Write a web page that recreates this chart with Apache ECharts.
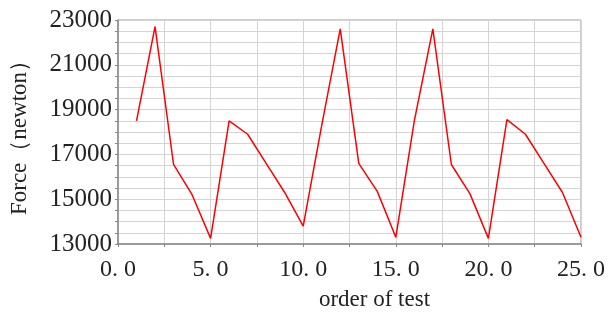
<!DOCTYPE html>
<html>
<head>
<meta charset="utf-8">
<script src="https://cdn.jsdelivr.net/npm/echarts@6/dist/echarts.min.js"></script>
<style>
  html, body { margin: 0; padding: 0; background: #fff; }
  #chart { width: 611px; height: 316px; }
</style>
</head>
<body>
<div id="chart"></div>
<script>
// order of test (x) and measured force (y)
const testOrder = [1, 2, 3, 4, 5, 6, 7, 8, 9, 10, 11, 12, 13, 14, 15, 16, 17, 18, 19, 20, 21, 22, 23, 24, 25]
const forceValues = [18500, 22700, 16550, 15200, 13250, 18500, 17900, 16600, 15300, 13800,
  18300, 22600, 16600, 15350, 13300, 18500, 22600, 16550, 15250, 13250,
  18550, 17900, 16600, 15300, 13300]
const yLabelValues = [13000, 15000, 17000, 19000, 21000, 23000]
const xLabelValues = [0, 5, 10, 15, 20, 25]

const chart = echarts.init(document.getElementById('chart'), null, { renderer: 'canvas' })

const serif = '"Liberation Serif", "DejaVu Serif", serif'

const option = {
  animation: false,
  grid: {
    left: 115,
    top: 20,
    right: 30,
    bottom: 67,
    show: true,
    borderColor: '#9a9a9a',
    borderWidth: 1
  },
  xAxis: {
    type: 'value',
    min: 0,
    max: 25,
    interval: 2.5,
    name: 'order of test',
    nameLocation: 'middle',
    nameGap: 44,
    nameTextStyle: { fontFamily: serif, fontSize: 23, color: '#222', padding: [0, 0, 0, 50] },
    axisLine: { show: true, lineStyle: { color: '#888', width: 1.5 } },
    axisTick: { show: true, length: 3, lineStyle: { color: '#888' } },
    axisLabel: {
      fontFamily: serif,
      fontSize: 24,
      color: '#222',
      margin: 14,
      formatter: v => xLabelValues.includes(v) ? v.toFixed(1).replace('.', '. ') : ''
    },
    splitLine: { show: true, lineStyle: { color: '#d4d4d4', width: 1 } }
  },
  yAxis: {
    type: 'value',
    min: 13000,
    max: 23000,
    interval: 500,
    name: 'Force（newton）',
    nameLocation: 'middle',
    nameGap: 87,
    nameRotate: 90,
    nameTextStyle: { fontFamily: serif, fontSize: 23, color: '#222' },
    axisLine: { show: true, lineStyle: { color: '#888', width: 1.5 } },
    axisTick: { show: true, length: 3, lineStyle: { color: '#888' } },
    axisLabel: {
      fontFamily: serif,
      fontSize: 25,
      color: '#222',
      margin: 6,
      padding: [4, 0, 0, 0],
      formatter: v => yLabelValues.includes(v) ? String(v) : ''
    },
    splitLine: { show: true, lineStyle: { color: '#d4d4d4', width: 1 } }
  },
  series: [{
    type: 'line',
    data: testOrder.map((x, i) => [x, forceValues[i]]),
    showSymbol: false,
    lineStyle: { color: '#ff0000', width: 1.5 },
    itemStyle: { color: '#ff0000' }
  }]
}

chart.setOption(option)
</script>
</body>
</html>
